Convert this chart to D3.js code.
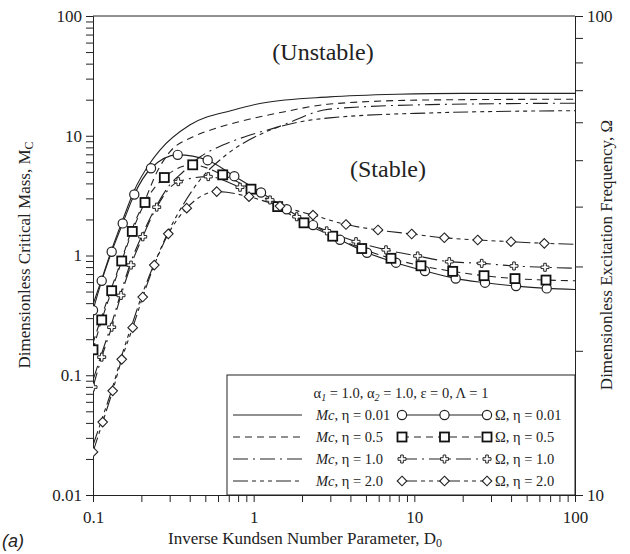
<!DOCTYPE html>
<html><head><meta charset="utf-8">
<script src="https://cdn.jsdelivr.net/npm/d3@7"></script>
<style>
body{margin:0;background:#fff}
text{font-family:"Liberation Serif","Times New Roman",serif;fill:#222}
</style>
</head><body>
<svg id="chart" width="630" height="554"></svg>
<script>
// ---------- data ----------
const xTickValues = [0.1, 1, 10, 100];
const xTickLabels = ["0.1", "1", "10", "100"];
const yLeftTickValues = [0.01, 0.1, 1, 10, 100];
const yLeftTickLabels = ["0.01", "0.1", "1", "10", "100"];
const yRightTickValues = [10, 100];
const yRightTickLabels = ["10", "100"];
const etaLabels = ["0.01", "0.5", "1.0", "2.0"];

// Critical mass Mc (left axis)
const mcX_001 = [0.1, 0.114, 0.131, 0.153, 0.18, 0.226, 0.261, 0.40, 0.75, 1.14, 2.97, 7.8, 20, 100];
const mcY_001 = [0.39, 0.65, 1.13, 1.98, 3.46, 5.9, 7.6, 12.3, 16.4, 18.8, 21.1, 22.2, 22.6, 22.6];
const mcX_05 = [0.1, 0.114, 0.131, 0.152, 0.175, 0.211, 0.25, 0.30, 0.42, 0.59, 0.95, 1.53, 2.97, 12.5, 100];
const mcY_05 = [0.186, 0.318, 0.546, 0.953, 1.66, 2.91, 4.98, 7.3, 9.8, 11.6, 13.8, 15.8, 18.4, 19.9, 20.2];
const mcX_10 = [0.1, 0.114, 0.131, 0.149, 0.172, 0.205, 0.25, 0.30, 0.363, 0.463, 0.643, 0.91, 1.40, 2.97, 12.5, 100];
const mcY_10 = [0.091, 0.156, 0.273, 0.486, 0.88, 1.54, 2.64, 3.88, 4.98, 6.64, 8.37, 9.95, 11.8, 16.7, 18.2, 18.7];
const mcX_20 = [0.1, 0.115, 0.133, 0.152, 0.177, 0.205, 0.243, 0.294, 0.363, 0.463, 0.672, 1.14, 2.97, 12.5, 100];
const mcY_20 = [0.026, 0.045, 0.081, 0.15, 0.278, 0.496, 0.88, 1.57, 2.64, 4.27, 6.9, 10.5, 14.1, 15.5, 16.2];

// Excitation frequency Omega (right axis)
const omX_001 = [0.100, 0.1133, 0.1307, 0.1531, 0.1807, 0.2296, 0.3367, 0.5174, 0.7575, 1.111, 1.605, 2.341, 3.446, 5.075, 7.689, 11.65, 18.09, 27.53, 42.94, 66.67, 100];
const omY_001 = [24.3, 28.0, 32.2, 36.9, 42.4, 48.1, 51.3, 50.0, 46.3, 42.8, 39.5, 36.6, 34.1, 32.05, 30.55, 29.35, 28.3, 27.75, 27.3, 27.0, 26.85];
const omX_05 = [0.100, 0.1133, 0.1307, 0.1509, 0.1756, 0.2107, 0.2779, 0.4174, 0.6416, 0.9625, 1.411, 2.057, 3.104, 4.705, 7.156, 11.00, 17.33, 27.14, 42.32, 66.01, 100];
const omY_05 = [20.1, 23.2, 26.7, 30.8, 35.5, 40.8, 46.0, 48.9, 46.6, 43.5, 40.0, 37.0, 34.7, 32.7, 31.2, 30.1, 29.3, 28.7, 28.3, 28.1, 28.0];
const omX_10 = [0.100, 0.1133, 0.1307, 0.1494, 0.1724, 0.2039, 0.2492, 0.3396, 0.5218, 0.8222, 1.264, 1.853, 2.848, 4.335, 6.661, 10.49, 16.50, 26.26, 41.72, 65.06, 100];
const omY_10 = [16.8, 19.4, 22.4, 26.1, 30.2, 34.6, 39.9, 45.1, 46.2, 43.9, 41.3, 38.1, 35.6, 33.8, 32.5, 31.55, 30.7, 30.45, 30.07, 29.88, 29.74];
const omX_20 = [0.100, 0.1149, 0.1326, 0.1509, 0.1766, 0.2039, 0.2407, 0.2943, 0.3831, 0.5888, 0.9352, 1.458, 2.341, 3.755, 5.939, 9.630, 15.37, 24.80, 39.96, 64.42, 100];
const omY_20 = [12.3, 14.2, 16.5, 19.2, 22.35, 25.9, 30.2, 35.1, 39.7, 43.0, 41.95, 40.1, 38.4, 36.7, 35.75, 35.06, 34.44, 34.07, 33.79, 33.53, 33.37];

// ---------- chart ----------
const svg = d3.select("#chart");
const L = 93, R = 575, T = 16, B = 495;
const x = d3.scaleLog().domain([0.1, 100]).range([L, R]);
const yL = d3.scaleLog().domain([0.01, 100]).range([B, T]);
const yR = d3.scaleLog().domain([10, 100]).range([B, T]);
const ink = "#222";
const serif = '"Liberation Serif","Times New Roman",serif';

const dashes = ["none", "7,5", "15,5,2,5", "15,4,4,4,4,4,4,4"];

function logTicks(lo, hi) {
  const out = [];
  for (let d = lo; d < hi; d *= 10) for (let k = 1; k < 10; k++) out.push(+(d * k).toPrecision(3));
  out.push(hi);
  return out;
}

svg.append("defs").append("clipPath").attr("id", "plotclip")
  .append("rect").attr("x", L).attr("y", T).attr("width", R - L).attr("height", B - T);

svg.append("line").attr("x1", L).attr("x2", R).attr("y1", T).attr("y2", T)
  .attr("stroke", ink).attr("stroke-width", 1);

const fmt = (vals, labs) => d => { const i = vals.findIndex(v => Math.abs(v / d - 1) < 1e-6); return i >= 0 ? labs[i] : ""; };

const gx = svg.append("g").attr("transform", `translate(0,${B})`)
  .call(d3.axisBottom(x).tickValues(logTicks(0.1, 100)).tickSize(7).tickSizeOuter(0)
    .tickFormat(fmt(xTickValues, xTickLabels)));
gx.selectAll("text").attr("font-size", 17).attr("dy", "1.05em");

const gyl = svg.append("g").attr("transform", `translate(${L},0)`)
  .call(d3.axisLeft(yL).tickValues(logTicks(0.01, 100)).tickSizeOuter(0).tickSize(7)
    .tickFormat(fmt(yLeftTickValues, yLeftTickLabels)));
gyl.selectAll("text").attr("font-size", 17).attr("x", -11);

const gyr = svg.append("g").attr("transform", `translate(${R},0)`)
  .call(d3.axisRight(yR).tickValues(logTicks(10, 100)).tickSizeOuter(0).tickSize(8)
    .tickFormat(fmt(yRightTickValues, yRightTickLabels)));
gyr.selectAll("text").attr("font-size", 17).attr("x", 12);

[gx, gyl, gyr].forEach(g => { g.attr("font-family", serif); g.selectAll("text").style("font-family", serif).attr("fill", ink); });
svg.selectAll(".domain").attr("stroke", ink);
svg.selectAll(".tick line").attr("stroke", ink);

// series
const plot = svg.append("g").attr("clip-path", "url(#plotclip)");
const mcSeries = [[mcX_001, mcY_001], [mcX_05, mcY_05], [mcX_10, mcY_10], [mcX_20, mcY_20]];
const omSeries = [[omX_001, omY_001], [omX_05, omY_05], [omX_10, omY_10], [omX_20, omY_20]];

const lineL = d3.line().x(d => x(d[0])).y(d => yL(d[1])).curve(d3.curveMonotoneX);
const lineR = d3.line().x(d => x(d[0])).y(d => yR(d[1])).curve(d3.curveMonotoneX);

mcSeries.forEach((s, i) => {
  const pts = s[0].map((v, k) => [v, s[1][k]]);
  plot.append("path").attr("d", lineL(pts)).attr("fill", "none")
    .attr("stroke", ink).attr("stroke-width", 1.1).attr("stroke-dasharray", dashes[i]);
});
omSeries.forEach((s, i) => {
  const pts = s[0].map((v, k) => [v, s[1][k]]);
  plot.append("path").attr("d", lineR(pts)).attr("fill", "none")
    .attr("stroke", ink).attr("stroke-width", 1.1).attr("stroke-dasharray", dashes[i]);
});

function marker(g, type, cx, cy) {
  if (type === 0) {
    g.append("circle").attr("cx", cx).attr("cy", cy).attr("r", 4.6)
      .attr("fill", "#fff").attr("stroke", ink).attr("stroke-width", 1.2);
  } else if (type === 1) {
    g.append("rect").attr("x", cx - 4.5).attr("y", cy - 4.5).attr("width", 9).attr("height", 9)
      .attr("fill", "#fff").attr("stroke", "#111").attr("stroke-width", 1.8);
  } else if (type === 2) {
    const a = 4, w = 1.3;
    g.append("path").attr("d", `M${cx - w},${cy - a}H${cx + w}V${cy - w}H${cx + a}V${cy + w}H${cx + w}V${cy + a}H${cx - w}V${cy + w}H${cx - a}V${cy - w}H${cx - w}Z`)
      .attr("fill", "#fff").attr("stroke", ink).attr("stroke-width", 1);
  } else {
    const a = 4.8;
    g.append("path").attr("d", `M${cx},${cy - a}L${cx + a},${cy}L${cx},${cy + a}L${cx - a},${cy}Z`)
      .attr("fill", "#fff").attr("stroke", ink).attr("stroke-width", 1.1);
  }
}
omSeries.forEach((s, i) => {
  const g = plot.append("g");
  s[0].forEach((v, k) => { if (v < 100) marker(g, i, x(v), yR(s[1][k])); });
});

// region labels
svg.append("text").attr("x", 323).attr("y", 60).attr("text-anchor", "middle").attr("font-size", 24).text("(Unstable)");
svg.append("text").attr("x", 388).attr("y", 177).attr("text-anchor", "middle").attr("font-size", 24).text("(Stable)");

// axis titles
svg.append("text").attr("transform", "translate(30,255) rotate(-90)").attr("text-anchor", "middle")
  .attr("font-size", 17).html('Dimensionless Critical Mass, M<tspan font-size="12" dy="3">C</tspan>');
svg.append("text").attr("transform", "translate(612,255) rotate(-90)").attr("text-anchor", "middle")
  .attr("font-size", 17).text("Dimensionless Excitation Frequency, Ω");
svg.append("text").attr("x", 305).attr("y", 544).attr("text-anchor", "middle")
  .attr("font-size", 17).html('Inverse Kundsen Number Parameter, D<tspan font-size="12" dy="3">0</tspan>');
svg.append("text").attr("x", 2).attr("y", 547).attr("font-size", 18).attr("font-style", "italic")
  .style("font-family", "Liberation Sans, Arial, sans-serif").text("(a)");

// legend
const lg = svg.append("g");
lg.append("rect").attr("x", 227).attr("y", 375).attr("width", R - 227).attr("height", B - 375)
  .attr("fill", "#fff").attr("stroke", ink).attr("stroke-width", 1);
lg.append("text").attr("x", 401).attr("y", 398).attr("text-anchor", "middle").attr("font-size", 14.5)
  .html('α<tspan font-size="10" dy="3" font-style="italic">1</tspan><tspan dy="-3"> = 1.0, α</tspan><tspan font-size="10" dy="3" font-style="italic">2</tspan><tspan dy="-3"> = 1.0, ε = 0, Λ = 1</tspan>');
etaLabels.forEach((eta, i) => {
  const yy = 415 + i * 22;
  lg.append("line").attr("x1", 233).attr("x2", 302).attr("y1", yy).attr("y2", yy)
    .attr("stroke", ink).attr("stroke-width", 1.1).attr("stroke-dasharray", dashes[i]);
  lg.append("text").attr("x", 316).attr("y", yy + 5).attr("font-size", 14.5)
    .html(`<tspan font-style="italic">Mc</tspan>, η = ${eta}`);
  lg.append("line").attr("x1", 402).attr("x2", 487).attr("y1", yy).attr("y2", yy)
    .attr("stroke", ink).attr("stroke-width", 1.1).attr("stroke-dasharray", dashes[i]);
  [402, 444.5, 487].forEach(mx => marker(lg, i, mx, yy));
  lg.append("text").attr("x", 495).attr("y", yy + 5).attr("font-size", 14.5).text(`Ω, η = ${eta}`);
});
</script>
</body></html>
